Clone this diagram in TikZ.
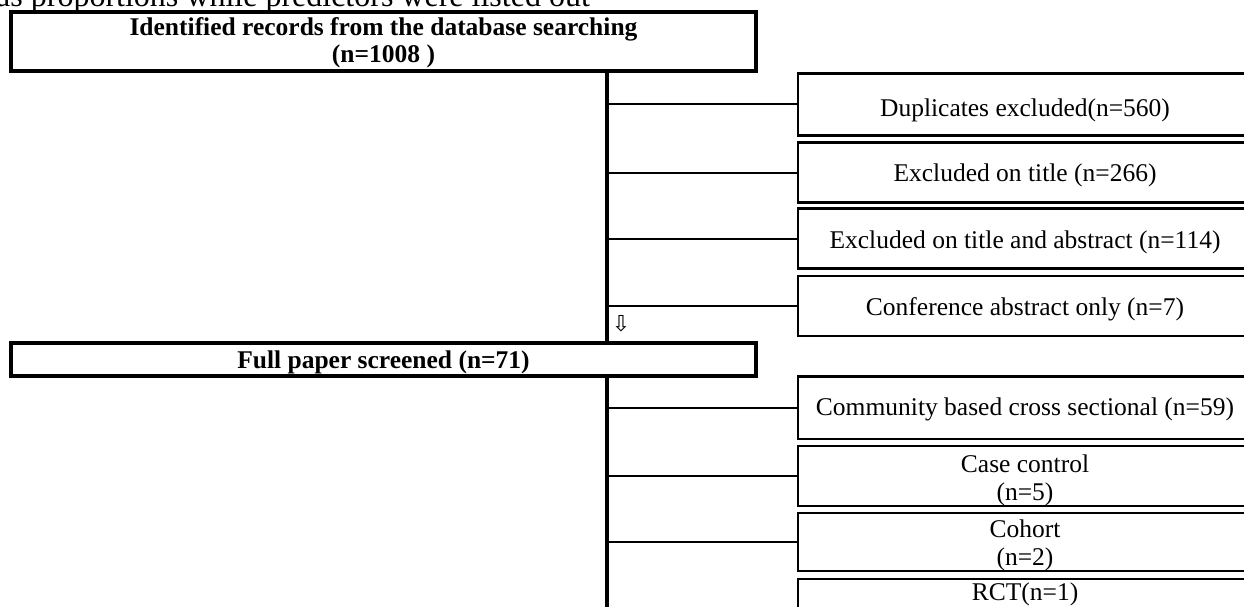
\documentclass[tikz,border=0pt]{standalone}
\usepackage{fontspec}
\setmainfont{Liberation Serif}
\newfontfamily\symfont{DejaVu Sans}
\newcommand\lowered[2][-4pt]{\raisebox{#1}[\height][\depth]{\begin{tabular}{@{}c@{}}#2\end{tabular}}}
\begin{document}
\begin{tikzpicture}[x=1pt,y=-1pt,
  bigbox/.style={draw,line width=4pt,rectangle,inner sep=0pt,align=center,minimum width=745pt,font=\bfseries\fontsize{25.5}{27}\selectfont},
  sidetext/.style={font=\fontsize{25.5}{28}\selectfont,align=center},
  sidebox/.style={draw,line width=2.3pt,rectangle,inner sep=0pt,minimum width=454pt,sidetext},
  trunk/.style={line width=4pt},
  branch/.style={line width=2pt}]
\useasboundingbox (0,0) rectangle (1244,607);
\clip (0,0) rectangle (1244,607);
\node[anchor=base west,inner sep=0pt,font=\fontsize{32}{32}\selectfont] (top) at (-4,7) {as proportions while predictors were listed out};
\node[bigbox,minimum height=59.5pt] (id) at (383.5,41.75) {\lowered[-2pt]{Identified records from the database searching\\(n=1008 )}};
\node[bigbox,minimum height=33pt] (fp) at (383.5,359.5) {\lowered{Full paper screened (n=71)}};
\node[sidebox,minimum height=62pt] (dup) at (1025,104.5) {\lowered[-6pt]{Duplicates excluded(n=560)}};
\node[sidebox,minimum height=60pt] (tit) at (1025,172.5) {\lowered[-3pt]{Excluded on title (n=266)}};
\node[sidebox,minimum height=60pt] (abs) at (1025,238.5) {\lowered{Excluded on title and abstract (n=114)}};
\node[sidebox,minimum height=59.5pt] (conf) at (1025,306) {\lowered{Conference abstract only (n=7)}};
\node[sidebox,minimum height=62.5pt] (comm) at (1025,407.75) {\lowered[-2pt]{Community based cross sectional (n=59)}};
\node[sidebox,minimum height=60pt] (cc) at (1025,476) {\lowered[-5pt]{Case control\\(n=5)}};
\node[sidebox,minimum height=58pt] (coh) at (1025,542) {\lowered{Cohort\\(n=2)}};
\node[sidebox,minimum height=60pt,label={[sidetext,anchor=center,yshift=-17pt]north:RCT(n=1)}] (rct) at (1025,609) {};
\node[inner sep=0pt,font=\symfont\fontsize{22}{22}\selectfont] (arr) at (621,324) {⇩};
\coordinate (tend) at (607,612);
\draw[trunk] (id.south -| tend) -- (fp.north -| tend);
\draw[trunk] (fp.south -| tend) -- (tend);
\foreach \b in {dup,tit,abs,conf,comm,cc,coh}
  \draw[branch] (\b.west -| tend) -- (\b.west);
\end{tikzpicture}
\end{document}
